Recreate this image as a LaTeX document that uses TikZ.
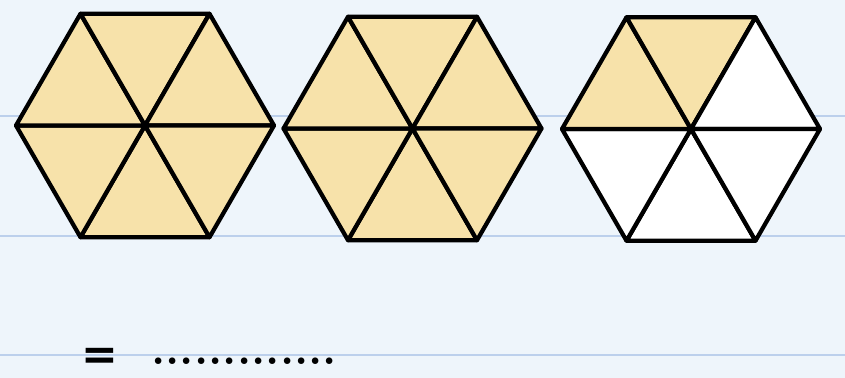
\documentclass[tikz,border=0pt]{standalone}
\usepackage{tikz}
\usepackage{fontspec}
\usetikzlibrary{calc}
\newfontfamily\answerfont{DejaVu Sans}
\definecolor{sand}{HTML}{F7E2AA}
\definecolor{paper}{HTML}{EEF5FB}
\definecolor{ruled}{HTML}{BCD0EC}

\begin{document}
\begin{tikzpicture}[x=0.02cm, y=-0.02cm, line join=round]
    %the paper
    \fill[paper] (0, 0) rectangle (845, 378);
    \useasboundingbox (0, 0) rectangle (845, 378);
    \draw[ruled, line width=1.2pt] (0, 116)--(845, 116) (0, 236)--(845, 236) (0, 355)--(845, 355);
    %the hexagons, one triangle at a time
    \foreach \cx/\cy/\cols [count=\h] in {145/125.5/{sand,sand,sand,sand,sand,sand},
            412.5/128.5/{sand,sand,sand,sand,sand,sand},
            691/129/{white,white,sand,sand,white,white}}{
        \coordinate (c\h) at (\cx, \cy);
        \foreach \c [count=\k] in \cols
            \filldraw[fill=\c, line width=2.4pt] (c\h) -- ++(60*\k:129) -- ++(60*\k+120:129) -- cycle;
    }
    %the answer line
    \node[inner sep=0pt, font=\answerfont\bfseries\fontsize{25}{28}\selectfont] (eq) at (100, 359) {=};
    \node[inner sep=0pt, anchor=base west, font=\bfseries\fontsize{26}{30}\selectfont] (dots) at (151, 364.5) {.............};
\end{tikzpicture}
\end{document}
